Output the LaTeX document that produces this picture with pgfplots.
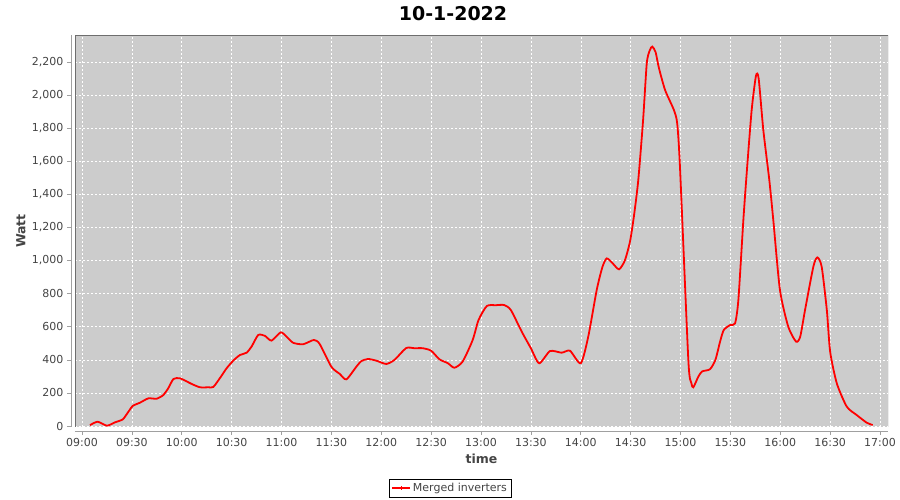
\documentclass[border=0pt]{standalone}
\usepackage{fontspec}
\setmainfont{DejaVu Sans}
\usepackage{pgfplots}
\pgfplotsset{compat=1.18}
\definecolor{plotbg}{RGB}{204,204,204}
\definecolor{txt}{RGB}{68,68,68}
\definecolor{axisgray}{RGB}{160,160,160}
\definecolor{border}{RGB}{110,110,110}
\begin{document}
\begin{tikzpicture}
\begin{axis}[
  at={(75pt,73pt)}, anchor=south west,
  scale only axis, width=813pt, height=392pt,
  xmin=-4.2, xmax=484.8, ymin=-6, ymax=2363,
  axis lines=left, axis x line shift=4pt, axis y line shift=4pt,
  axis line style={-, axisgray, line width=0.8pt},
  axis background/.style={fill=plotbg},
  tick align=outside, major tick length=4pt,
  tick style={axisgray, line width=0.6pt},
  xtick={0,30,...,480},
  xticklabels={09:00,09:30,10:00,10:30,11:00,11:30,12:00,12:30,13:00,13:30,14:00,14:30,15:00,15:30,16:00,16:30,17:00},
  ytick={0,200,...,2200},
  /pgf/number format/.cd, 1000 sep={,}, assume math mode=true, /pgfplots/.cd,
  scaled y ticks=false,
  ticklabel style={font=\fontsize{11}{13}\selectfont, text=txt},
  grid=major,
  major grid style={white, line width=0.5pt, dash pattern=on 2pt off 2pt},
  xlabel={time}, ylabel={Watt},
  every axis x label/.style={at={(rel axis cs:0.5,0)}, anchor=center, yshift=-32pt, font=\bfseries\fontsize{12.5}{15}\selectfont, text=txt},
  every axis y label/.style={at={(rel axis cs:0,0.5)}, anchor=center, rotate=90, yshift=54pt, font=\bfseries\fontsize{12.5}{15}\selectfont, text=txt},
  legend style={at={(0.4613,-0.1556)}, anchor=center, draw=black, line width=0.6pt, font=\fontsize{11}{13}\selectfont, inner sep=2pt, text=txt},
  legend image code/.code={\draw[red, line width=1.8pt] (0pt,0pt) -- (18pt,0pt); \draw[red, line width=0.8pt] (9pt,-2pt) -- (9pt,2pt);},
]
\addplot[red, line width=1.8pt, smooth, tension=0.4] coordinates {
(4.8,5) (9.4,26) (15,2) (19.8,22) (24.5,40) (27.5,80) (30.5,121) (34.9,141)
(39.9,167) (44.9,165) (48.9,187) (52,230) (55,284) (59,288) (66,254) (71,234)
(76,234) (79,236) (83,290) (87,349) (91,395) (95,429) (99,443) (102,480)
(106,550) (110,545) (114,516) (119.5,566) (123,540) (127,503) (133,494)
(139.5,520) (143,495) (150,358) (155,315) (159,282) (165,358) (168,392)
(172,405) (177,395) (183,375) (188,400) (195,471) (200,470) (205,470)
(210,455) (215,403) (220,380) (224,352) (229,390) (235,520) (238.5,640)
(243.5,725) (249,730) (254,731) (258,700) (264.5,570) (270,470) (275,379)
(281.5,453) (288.5,443) (293.5,455) (300,379) (304.5,540) (309.6,822)
(313,960) (315.6,1013) (319,985) (323,947) (326.5,1000) (329.6,1114)
(332,1270) (334.6,1487) (337.5,1850) (339.7,2192) (341.5,2270) (343,2293)
(345,2260) (347,2164) (350.7,2031) (356,1910) (358,1829) (359.7,1560)
(364.7,399) (366.5,260) (367.7,234) (370.7,298) (373,330) (377.7,343)
(381,400) (383.8,510) (386,580) (389.8,610) (392.8,620) (394.8,762)
(397.8,1245) (399.8,1527) (402.8,1910) (405.4,2117) (407,2100) (409.8,1789)
(413.4,1487) (415.8,1245) (419.8,822) (424.8,600) (429.5,510) (432,540)
(434.9,701) (439.9,963) (442.3,1019) (444.9,963) (448,701) (450,449)
(454,258) (460,117) (466,66) (472,20) (475.6,6)
};
\addlegendentry{Merged inverters}
\draw[border, line width=0.8pt] (rel axis cs:0,0) rectangle (rel axis cs:1,1);
\end{axis}
\node[font=\bfseries\fontsize{19}{22}\selectfont, text=black] at (453pt,486pt) {10-1-2022};
\pgfresetboundingbox
\path[use as bounding box] (0,0) rectangle (900pt,500pt);
\end{tikzpicture}
\end{document}
